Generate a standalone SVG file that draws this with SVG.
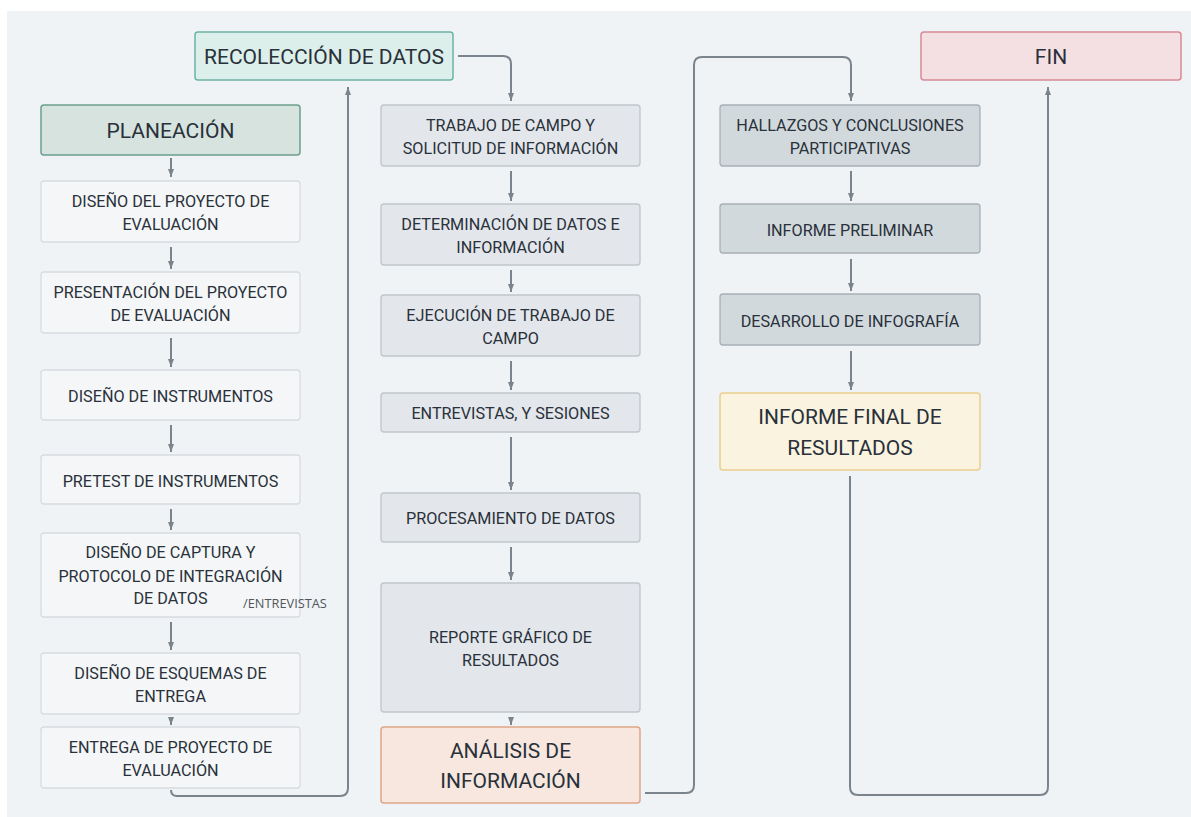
<svg xmlns="http://www.w3.org/2000/svg" width="1191" height="817" viewBox="0 0 1191 817">
<defs>
<style>
.t{font-family:Roboto,"Liberation Sans",sans-serif;font-size:16.2px;fill:#29313a;text-anchor:middle}
.b{font-family:Roboto,"Liberation Sans",sans-serif;font-size:21px;fill:#29313a;text-anchor:middle}
.n1{fill:#f5f6f8;stroke:#d8dce0;stroke-width:1.3}
.n2{fill:#e3e6ea;stroke:#c1c6cc;stroke-width:1.3}
.n3{fill:#d2d9dd;stroke:#a8b0b7;stroke-width:1.3}
.c{fill:none;stroke:#7b848d;stroke-width:2}
</style>
<marker id="ah" viewBox="0 0 8 6" refX="8" refY="3" markerWidth="8" markerHeight="6" markerUnits="userSpaceOnUse" orient="auto">
<path d="M0,0 L8,3 L0,6 Z" fill="#7b848d"/>
</marker>
</defs>
<rect x="0" y="0" width="1191" height="817" fill="#ffffff"/>
<rect x="7" y="11" width="1184" height="806" fill="#eff3f6"/>

<g id="connectors">
<path class="c" marker-end="url(#ah)" d="M171,158 L171,177"/>
<path class="c" marker-end="url(#ah)" d="M171,247 L171,269"/>
<path class="c" marker-end="url(#ah)" d="M171,338 L171,367"/>
<path class="c" marker-end="url(#ah)" d="M171,425 L171,452"/>
<path class="c" marker-end="url(#ah)" d="M171,509 L171,530"/>
<path class="c" marker-end="url(#ah)" d="M171,622 L171,650"/>
<path class="c" marker-end="url(#ah)" d="M171,717 L171,725"/>
<path class="c" marker-end="url(#ah)" d="M171,790 Q171,796 177,796 L340,796 Q348,796 348,788 L348,87"/>
<path class="c" marker-end="url(#ah)" d="M458,56 L503,56 Q511,56 511,64 L511,101"/>
<path class="c" marker-end="url(#ah)" d="M511,171 L511,201"/>
<path class="c" marker-end="url(#ah)" d="M511,270 L511,292"/>
<path class="c" marker-end="url(#ah)" d="M511,361 L511,390"/>
<path class="c" marker-end="url(#ah)" d="M511,437 L511,490"/>
<path class="c" marker-end="url(#ah)" d="M511,547 L511,580"/>
<path class="c" marker-end="url(#ah)" d="M511,717 L511,725"/>
<path class="c" marker-end="url(#ah)" d="M645,793 L686,793 Q694,793 694,785 L694,65 Q694,57 702,57 L843,57 Q851,57 851,65 L851,101"/>
<path class="c" marker-end="url(#ah)" d="M851,171 L851,201"/>
<path class="c" marker-end="url(#ah)" d="M851,259 L851,291"/>
<path class="c" marker-end="url(#ah)" d="M851,351 L851,390"/>
<path class="c" marker-end="url(#ah)" d="M850,476 L850,787 Q850,795 858,795 L1040,795 Q1048,795 1048,787 L1048,87"/>
</g>

<g id="recoleccion">
<rect x="195" y="32" width="258" height="48" rx="3" fill="#dcefeb" stroke="#6db3a5" stroke-width="1.5"/>
<text class="b" x="324" y="64">RECOLECCIÓN DE DATOS</text>
</g>
<g id="fin">
<rect x="921" y="32" width="260" height="48" rx="3" fill="#f4dfe2" stroke="#d68a94" stroke-width="1.5"/>
<text class="b" x="1051" y="64">FIN</text>
</g>
<g id="planeacion">
<rect x="41" y="105" width="259" height="50" rx="3" fill="#d6e3de" stroke="#6b9f8c" stroke-width="1.5"/>
<text class="b" x="170.5" y="138">PLANEACIÓN</text>
</g>
<g id="diseno-proyecto">
<rect class="n1" x="41" y="181" width="259" height="61" rx="3"/>
<text class="t" x="170.5" y="207">DISEÑO DEL PROYECTO DE</text>
<text class="t" x="170.5" y="230">EVALUACIÓN</text>
</g>
<g id="presentacion">
<rect class="n1" x="41" y="272" width="259" height="61" rx="3"/>
<text class="t" x="170.5" y="298">PRESENTACIÓN DEL PROYECTO</text>
<text class="t" x="170.5" y="321">DE EVALUACIÓN</text>
</g>
<g id="diseno-instrumentos">
<rect class="n1" x="41" y="370" width="259" height="50" rx="3"/>
<text class="t" x="170.5" y="402">DISEÑO DE INSTRUMENTOS</text>
</g>
<g id="pretest">
<rect class="n1" x="41" y="455" width="259" height="49" rx="3"/>
<text class="t" x="170.5" y="486.5">PRETEST DE INSTRUMENTOS</text>
</g>
<g id="diseno-captura">
<rect class="n1" x="41" y="533" width="259" height="84" rx="3"/>
<text class="t" x="170.5" y="558">DISEÑO DE CAPTURA Y</text>
<text class="t" x="170.5" y="581.5">PROTOCOLO DE INTEGRACIÓN</text>
<text class="t" x="170.5" y="604">DE DATOS</text>
<text x="243" y="608" font-family="'Open Sans','Liberation Sans',sans-serif" font-size="12.8" fill="#50565c">/ENTREVISTAS</text>
</g>
<g id="diseno-esquemas">
<rect class="n1" x="41" y="653" width="259" height="61" rx="3"/>
<text class="t" x="170.5" y="679">DISEÑO DE ESQUEMAS DE</text>
<text class="t" x="170.5" y="702">ENTREGA</text>
</g>
<g id="entrega">
<rect class="n1" x="41" y="727" width="259" height="61" rx="3"/>
<text class="t" x="170.5" y="752.5">ENTREGA DE PROYECTO DE</text>
<text class="t" x="170.5" y="775.5">EVALUACIÓN</text>
</g>

<g id="trabajo-campo">
<rect class="n2" x="381" y="105" width="259" height="61" rx="3"/>
<text class="t" x="510.5" y="130.5">TRABAJO DE CAMPO Y</text>
<text class="t" x="510.5" y="153.5">SOLICITUD DE INFORMACIÓN</text>
</g>
<g id="determinacion">
<rect class="n2" x="381" y="204" width="259" height="61" rx="3"/>
<text class="t" x="510.5" y="230">DETERMINACIÓN DE DATOS E</text>
<text class="t" x="510.5" y="252.5">INFORMACIÓN</text>
</g>
<g id="ejecucion">
<rect class="n2" x="381" y="295" width="259" height="61" rx="3"/>
<text class="t" x="510.5" y="321">EJECUCIÓN DE TRABAJO DE</text>
<text class="t" x="510.5" y="343.5">CAMPO</text>
</g>
<g id="entrevistas">
<rect class="n2" x="381" y="393" width="259" height="39" rx="3"/>
<text class="t" x="510.5" y="419">ENTREVISTAS, Y SESIONES</text>
</g>
<g id="procesamiento">
<rect class="n2" x="381" y="493" width="259" height="49" rx="3"/>
<text class="t" x="510.5" y="524">PROCESAMIENTO DE DATOS</text>
</g>
<g id="reporte">
<rect class="n2" x="381" y="583" width="259" height="129" rx="3"/>
<text class="t" x="510.5" y="642.5">REPORTE GRÁFICO DE</text>
<text class="t" x="510.5" y="665.5">RESULTADOS</text>
</g>
<g id="analisis">
<rect x="381" y="727" width="259" height="76" rx="3" fill="#f7e7df" stroke="#e0a689" stroke-width="1.5"/>
<text class="b" x="510.5" y="758">ANÁLISIS DE</text>
<text class="b" x="510.5" y="788">INFORMACIÓN</text>
</g>

<g id="hallazgos">
<rect class="n3" x="720" y="105" width="260" height="61" rx="3"/>
<text class="t" x="850" y="130.5">HALLAZGOS Y CONCLUSIONES</text>
<text class="t" x="850" y="153.5">PARTICIPATIVAS</text>
</g>
<g id="informe-preliminar">
<rect class="n3" x="720" y="204" width="260" height="49" rx="3"/>
<text class="t" x="850" y="235.5">INFORME PRELIMINAR</text>
</g>
<g id="infografia">
<rect class="n3" x="720" y="294" width="260" height="51" rx="3"/>
<text class="t" x="850" y="326.5">DESARROLLO DE INFOGRAFÍA</text>
</g>
<g id="informe-final">
<rect x="720" y="393" width="260" height="77" rx="3" fill="#faf3df" stroke="#ebd08c" stroke-width="1.5"/>
<text class="b" x="850" y="424">INFORME FINAL DE</text>
<text class="b" x="850" y="455">RESULTADOS</text>
</g>
</svg>
